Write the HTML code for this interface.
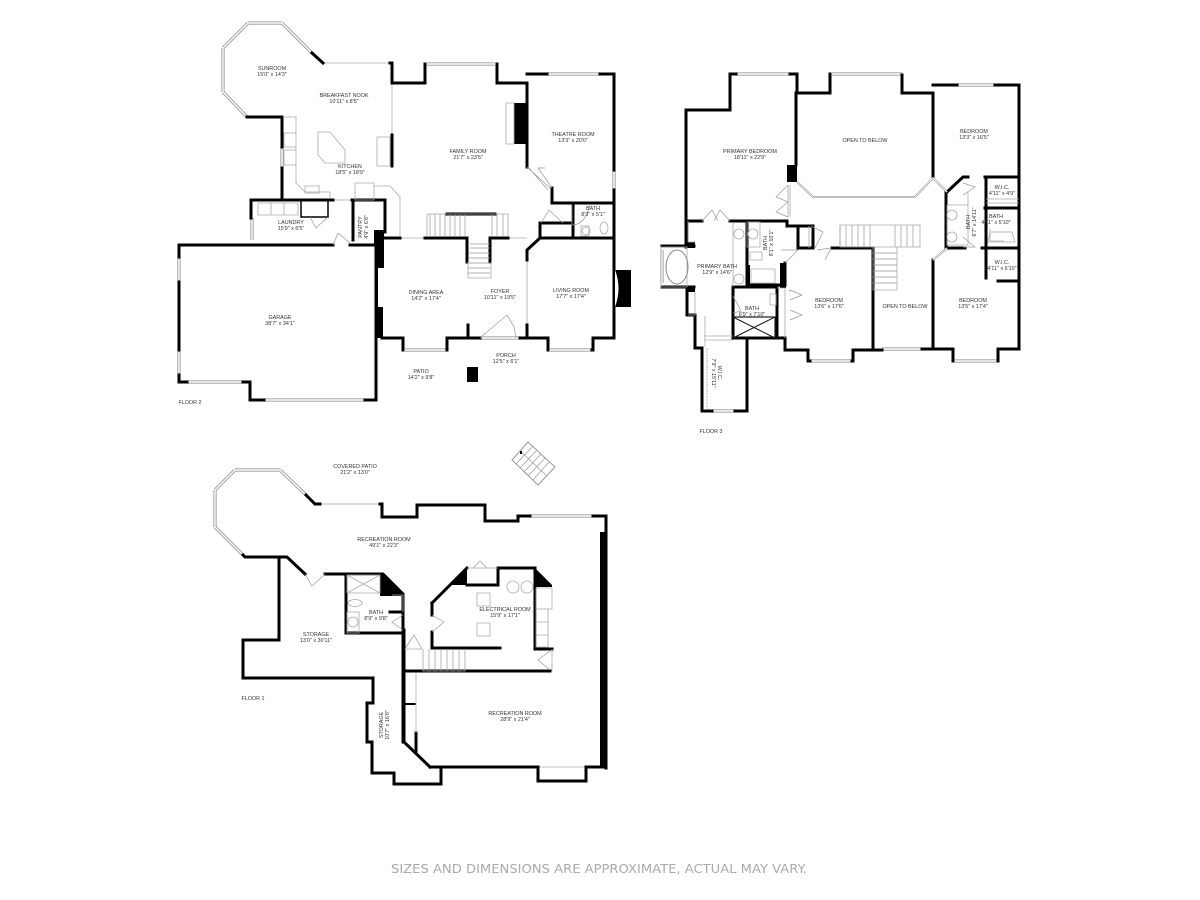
<!DOCTYPE html>
<html><head><meta charset="utf-8"><style>
html,body{margin:0;padding:0;background:#fff}
svg{display:block}
.w{fill:none;stroke:#000;stroke-width:3;stroke-linecap:square;stroke-linejoin:miter}
.m{fill:none;stroke:#000;stroke-width:2;stroke-linecap:square}
.n{fill:none;stroke:#999;stroke-width:3.2}
.n2{fill:none;stroke:#fff;stroke-width:1.4}
.t{fill:none;stroke:#aaa;stroke-width:.8}
.d{fill:none;stroke:#999;stroke-width:.7}
.k{fill:#000}
text{font-family:"Liberation Sans",sans-serif;font-size:5.4px;fill:#333;text-anchor:middle}
</style></head><body>
<svg width="1200" height="900" viewBox="0 0 1200 900" xmlns="http://www.w3.org/2000/svg">
<rect width="1200" height="900" fill="#fff"/>
<defs>
<path id="winA" d="M248 23H282M282 23L312 53M248 23L223 48M223 48V92M223 92L247 117M427 64H495M547 74H600M614 170V190M520 338H480M405 350H447M550 350H592M252 218V240M179 257V282M179 350V375M187 382H243M264 400H365M282 147V168M736 74H790M832 74H902M957 85H995M955 361H997M882 349H922M810 361H852M712 411H735M662 250V283M1019 213V225M235 470H280M280 470L306 495M235 470L215 490M215 490V527M215 527L243 555M530 516H593"/>
</defs>
<use href="#winA" class="n"/><use href="#winA" class="n2"/>

<!-- FLOOR 2 walls -->
<path class="t" d="M323 63H390M392 83V135M333 200H352M427 238H383M527 260V325M508 238H527"/>
<path class="w" d="M312 53L323 63M390 63H392V83H425V64M497 64V83H527V167M527 74H547M600 74H614V170M614 190V238M552 188V203H613M392 135V166"/>
<path class="w" d="M247 117H282V147M282 168V198M251 218V200H333M352 200H385V232M353 200V240"/>
<path class="m" style="stroke-width:1.5" d="M301 201V217H328V201"/>
<path class="w" d="M179 257V245H333M350 245H376V400H365M264 400H250V382H243M187 382H179V375M179 350V282"/>
<path class="w" d="M382 338H403V350M447 350V338H480M520 338H548V350M592 350H593V338H614V238M540 238H613M527 260V250L540 238M527 325V338M468 325V338"/>
<path class="w" d="M425 238H467V262M490 262V238H508M377 238H400M447 214H495"/>
<path class="w" d="M540 238V223H572M573 204V238"/>
<path class="k" d="M374 230H384V268H378V338H375V245H374ZM375 307H383V338H375ZM514 103H528V144H514ZM615 270H631V307H615ZM467 367H478V382H467ZM375 230H383V240H375Z"/>
<path d="M615 270Q622 288 615 307Z" fill="#fff"/>
<path class="t" d="M506 103H514V144H506ZM377 137H390V166H377ZM427 214H508V237M427 214V237M468 262V278H491V262"/>
<path class="t" d="M283 117H296V183L305 192H330V198M284 133H296V147H284ZM284 150H296V165H284ZM305 186H319V193H305ZM258 203H298V215H258ZM271 203V215M284 203V215"/>
<path class="t" d="M318 132H330L345 150V163H325L318 155Z"/>
<path class="t" d="M355 183H374V200H355ZM374 186H390L400 197V237"/>
<path class="d" d="M527 167L550 188M529 168L548 190M552 188L538 168H545M333 245L338 233L350 243M480 338L507 315L514 327L516 338M572 205V225M572 225Q585 225 590 205M310 217L316 228L328 217M541 223L549 210L563 223"/>
<path class="d" d="M430 214V237M435 214V237M440 214V237M445 214V237M450 214V237M455 214V237M460 214V237M465 214V237M492 214V237M497 214V237M503 214V237M468 253H490M468 258H490M468 263H490M468 268H490M468 273H490M470 244H490M470 248H490"/>
<rect x="581" y="226" width="8" height="10" class="t"/><ellipse cx="604" cy="228" rx="4" ry="6" class="t"/><circle cx="586" cy="231" r="4" class="t"/>
<text x="272" y="70">SUNROOM</text><text x="272" y="76">15'0" x 14'3"</text>
<text x="344" y="97">BREAKFAST NOOK</text><text x="344" y="103">10'11" x 8'5"</text>
<text x="350" y="168">KITCHEN</text><text x="350" y="174">18'5" x 18'9"</text>
<text x="468" y="153">FAMILY ROOM</text><text x="468" y="159">21'7" x 23'6"</text>
<text x="573" y="136">THEATRE ROOM</text><text x="573" y="142">13'3" x 20'0"</text>
<text x="593" y="210">BATH</text><text x="593" y="216">8'3" x 5'1"</text>
<text x="291" y="224">LAUNDRY</text><text x="291" y="230">15'9" x 6'5"</text>
<text transform="translate(362,227) rotate(-90)">PANTRY</text><text transform="translate(368,227) rotate(-90)">4'9" x 6'8"</text>
<text x="426" y="294">DINING AREA</text><text x="426" y="300">14'2" x 17'4"</text>
<text x="500" y="293">FOYER</text><text x="500" y="299">10'11" x 19'5"</text>
<text x="571" y="292">LIVING ROOM</text><text x="571" y="298">17'7" x 17'4"</text>
<text x="280" y="319">GARAGE</text><text x="280" y="325">38'7" x 34'1"</text>
<text x="506" y="357">PORCH</text><text x="506" y="363">12'5" x 6'1"</text>
<text x="421" y="373">PATIO</text><text x="421" y="379">14'2" x 9'8"</text>
<text x="190" y="404">FLOOR 2</text>

<!-- FLOOR 3 walls -->
<path class="w" d="M730 74V110H686V247M730 74H736M790 74H797V93H830V74M796 93V165M902 75V93H933V178M933 85H957M995 85H1019V349H998V361M953 361V349H933V260M922 349H953M873 248V349"/>
<path class="w" d="M785 338V350H808V361H810M852 361H853V350H882"/>
<path class="w" d="M688 221H702M730 221H787V226H813V248H798V226M832 248H873"/>
<path class="w" d="M662 246H694M662 287H694M687 246V222M687 287V315H695V348H702V411H712M735 411H747V340"/>
<path class="w" d="M733 338V287H777V338M733 338H785M747 222V285H785V263"/>
<path class="w" d="M947 192L963 177H968M985 177H1019M946 192V248H965M982 248H1019M986 177V278M998 281H1019M985 208H1019"/>
<path class="k" d="M787 165H797V182H787ZM780 263H786V288H780ZM747 265H750V285H747ZM687 242H695V248H687ZM687 286H695V292H687Z"/>
<path class="n" style="stroke-width:2;stroke:#999" d="M797 182L813 197H915L933 178L947 192M933 260L947 248"/>
<path class="n2" style="stroke-width:.8" d="M797 182L813 197H915L933 178L947 192M933 260L947 248"/>
<path class="t" d="M840 225H920V247H840ZM873 247V290H897V247M661 247H687V287H661ZM788 185V217M790 185V217M733 222V287M704 340H733M688 315H695V292M688 221V242H695M705 316V347M809 226V248M785 288V338M777 288H785V338M704 336H733"/>
<path class="d" stroke-dasharray="2 1" d="M707 348V411"/>
<ellipse cx="677" cy="267" rx="11" ry="17" fill="none" stroke="#888" stroke-width="1"/>
<path class="d" d="M702 221L712 210L718 221M730 221L720 210L714 221M788 185L776 197L788 202L776 212L788 217M733 296L741 311L733 313M811 226L823 232L815 248M817 250L831 248L825 260M781 250H798L785 263M789 290L790 292M790 290L802 295L790 300M790 310L802 315L790 320"/>
<path class="t" d="M747 222H760V247H747ZM750 252H762V260H750ZM751 269H775V283H751ZM770 294V305H776V294ZM1004 241H990V229"/>
<path fill="none" stroke="#222" stroke-width="1.2" d="M733 317H775V338M733 317L775 338M775 317L733 338"/>
<path class="t" d="M947 205H968V245H947ZM968 192V245"/>
<circle cx="952" cy="215" r="5" class="t"/><circle cx="952" cy="237" r="5" class="t"/>
<circle cx="739" cy="234" r="5" class="t"/><circle cx="753" cy="234" r="5" class="t"/><circle cx="739" cy="279" r="5" class="t"/>
<path class="t" d="M990 232H1012L1015 242H988ZM986 199H1019M986 203H1019"/>
<path class="d" d="M840 225V247M846 225V247M852 225V247M858 225V247M864 225V247M870 225V247M895 225V247M901 225V247M907 225V247M913 225V247M873 253H897M873 259H897M873 265H897M873 271H897M873 277H897M873 283H897M963 183L975 187L963 195M963 237L975 247L963 247"/>
<text x="750" y="153">PRIMARY BEDROOM</text><text x="750" y="159">18'11" x 22'9"</text>
<text x="717" y="268">PRIMARY BATH</text><text x="717" y="274">12'9" x 14'6"</text>
<text transform="translate(767,243) rotate(-90)">BATH</text><text transform="translate(773,243) rotate(-90)">8'1" x 10'1"</text>
<text x="752" y="310">BATH</text><text x="752" y="316">6'9" x 7'10"</text>
<text transform="translate(718,373) rotate(90)">W.I.C.</text><text transform="translate(712,373) rotate(90)">7'9" x 15'11"</text>
<text x="829" y="302">BEDROOM</text><text x="829" y="308">13'6" x 17'6"</text>
<text x="865" y="142">OPEN TO BELOW</text>
<text x="905" y="308">OPEN TO BELOW</text>
<text x="974" y="133">BEDROOM</text><text x="974" y="139">13'3" x 16'5"</text>
<text x="1002" y="189">W.I.C.</text><text x="1002" y="195">4'11" x 4'9"</text>
<text x="996" y="218">BATH</text><text x="996" y="224">4'11" x 5'10"</text>
<text transform="translate(970,222) rotate(-90)">BATH</text><text transform="translate(976,222) rotate(-90)">6'7" x 14'11"</text>
<text x="1002" y="264">W.I.C.</text><text x="1002" y="270">4'11" x 6'10"</text>
<text x="973" y="302">BEDROOM</text><text x="973" y="308">13'5" x 17'4"</text>
<text x="711" y="433">FLOOR 3</text>

<!-- FLOOR 1 -->
<polygon points="528,442 555,467 538,485 512,460" fill="none" stroke="#999" stroke-width="1"/>
<path class="d" d="M533 446L516 464M537 450L520 468M541 454L524 472M545 458L528 476M549 462L533 480M520 451L547 476"/>
<rect x="520" y="451" width="2" height="3"/>
<path class="t" d="M320 504H380M538 767H586"/>
<path class="w" d="M306 495L315 504H320M380 504H382V517H417V505H485V521H518V516H530M593 516H606V768M243 555L245 557H287L305 574M325 574H383L403 594V742"/>
<path class="w" d="M279 557V640H243V678H373V703H367V742H372V773H394V784H441V768M430 767H538V781H586V767H603M404 630V742L430 767M416 733V753"/>
<path class="w" d="M346 574V633H403M390 612H403M404 671H550M432 603L467 568M498 568H535V649H552M432 603V615M432 632V648H500M498 568V585H467"/>
<path class="k" d="M600 532H607V768H600ZM382 574L403 594V596H380V574ZM467 568V585H450ZM535 568L552 585V587H535ZM405 703H416V705H405Z"/>
<path class="t" d="M467 568H498M416 673V733M405 649H422M423 649V671H465V649M347 575H380V593H347ZM347 575L380 593M380 575L347 593M552 649V671M392 595H403V612M477 593H490V606H477ZM477 623H490V636H477ZM536 588H552V609H536ZM536 609H548V622H536ZM536 622H548V635H536ZM536 635H548V647H536Z"/>
<path class="d" d="M429 649V671M435 649V671M441 649V671M447 649V671M453 649V671M459 649V671M305 574L312 586L325 574M403 615L392 622L403 630M405 649L414 635L422 649M473 568L480 561L487 568M432 615L444 622L432 632M550 651L538 660L550 670"/>
<circle cx="513" cy="587" r="6" class="t"/><circle cx="527" cy="587" r="6" class="t"/>
<circle cx="353" cy="622" r="5" class="t"/><rect x="347" y="612" width="12" height="21" class="t"/><ellipse cx="355" cy="603" rx="7" ry="3.5" class="t"/>
<text x="355" y="468">COVERED PATIO</text><text x="355" y="474">21'2" x 13'0"</text>
<text x="384" y="541">RECREATION ROOM</text><text x="384" y="547">49'1" x 22'3"</text>
<text x="376" y="614">BATH</text><text x="376" y="620">8'9" x 9'8"</text>
<text x="505" y="611">ELECTRICAL ROOM</text><text x="505" y="617">15'9" x 17'1"</text>
<text x="316" y="636">STORAGE</text><text x="316" y="642">13'0" x 30'11"</text>
<text transform="translate(383,725) rotate(-90)">STORAGE</text><text transform="translate(389,725) rotate(-90)">10'7" x 16'8"</text>
<text x="515" y="715">RECREATION ROOM</text><text x="515" y="721">28'9" x 21'4"</text>
<text x="253" y="700">FLOOR 1</text>

<text x="599" y="873" style="font-family:'DejaVu Sans',sans-serif;font-size:12px;fill:#aaa" textLength="416" lengthAdjust="spacingAndGlyphs">SIZES AND DIMENSIONS ARE APPROXIMATE, ACTUAL MAY VARY.</text>
</svg>
</body></html>
